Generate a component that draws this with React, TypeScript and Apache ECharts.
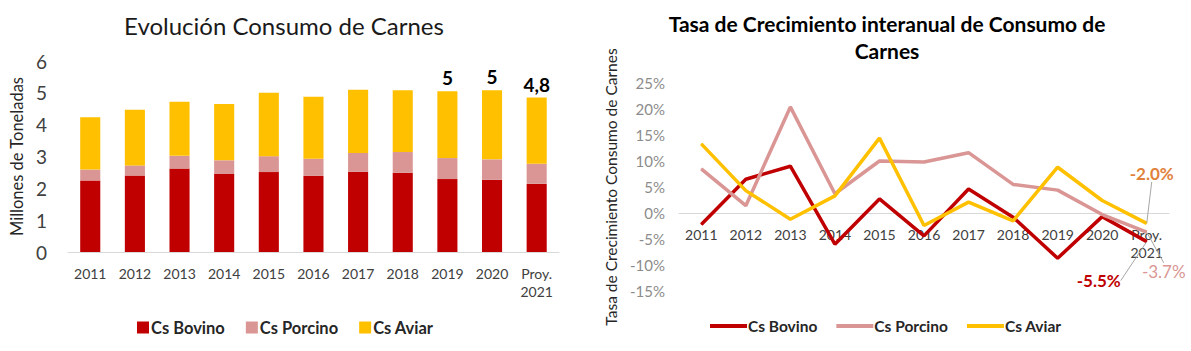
import React, { useEffect, useRef } from "react";
import * as echarts from "echarts";

const years = ["2011", "2012", "2013", "2014", "2015", "2016", "2017", "2018", "2019", "2020", "Proy.\n2021"];

// Millones de toneladas (stacked)
const csBovino = [2.25, 2.4, 2.62, 2.45, 2.51, 2.39, 2.52, 2.49, 2.29, 2.27, 2.14];
const csPorcino = [0.34, 0.32, 0.4, 0.43, 0.5, 0.54, 0.59, 0.65, 0.66, 0.64, 0.63];
const csAviar = [1.64, 1.75, 1.7, 1.77, 1.99, 1.95, 1.99, 1.94, 2.1, 2.17, 2.08];
const totalLabels = ["", "", "", "", "", "", "", "", "5", "5", "4,8"];

// Tasa de crecimiento interanual (%)
const growthBovino = [-2.2, 6.5, 9.0, -6.0, 2.7, -4.4, 4.6, -0.8, -8.7, -0.7, -5.5];
const growthPorcino = [8.5, 1.4, 20.4, 3.7, 10.0, 9.8, 11.6, 5.5, 4.4, -0.3, -3.7];
const growthAviar = [13.3, 4.3, -1.2, 3.3, 14.4, -2.4, 2.1, -1.5, 8.8, 2.4, -2.0];
const growthLabels = ["-5.5%", "-3.7%", "-2.0%"];
const growthMin = -15;
const growthMax = 25;

const FONT = "Lato, 'Open Sans', sans-serif";
const RED = "#C00000";
const PINK = "#D99694";
const YELLOW = "#FFC000";

export default function App() {
  const leftRef = useRef<HTMLDivElement>(null);
  const rightRef = useRef<HTMLDivElement>(null);

  useEffect(() => {
    const left = echarts.init(leftRef.current!, null, { renderer: "svg" });
    const right = echarts.init(rightRef.current!, null, { renderer: "svg" });

    left.setOption({
      animation: false,
      textStyle: { fontFamily: FONT },
      title: {
        text: "Evolución Consumo de Carnes",
        left: 279,
        textAlign: "center",
        top: 8,
        textStyle: { fontFamily: FONT, fontSize: 24, fontWeight: "normal", color: "#1a1a1a" },
      },
      legend: {
        left: 132,
        top: 314,
        itemWidth: 12,
        itemHeight: 12,
        itemGap: 21,
        icon: "rect",
        textStyle: { fontFamily: FONT, fontSize: 16.5, fontWeight: "bold", color: "#262626", padding: [0, 0, 0, -3] },
        data: ["Cs Bovino", "Cs Porcino", "Cs Aviar"],
      },
      grid: { left: 56, right: 36, top: 61, bottom: 99 },
      xAxis: {
        type: "category",
        data: years,
        axisLine: { lineStyle: { color: "#d9d9d9", width: 1 } },
        axisTick: { show: false },
        axisLabel: { color: "#404040", fontSize: 14, fontFamily: FONT, margin: 12, lineHeight: 18 },
      },
      yAxis: {
        type: "value",
        min: 0,
        max: 6,
        interval: 1,
        splitLine: { show: false },
        axisLine: { show: false },
        axisLabel: { color: "#404040", fontSize: 19, fontFamily: FONT, margin: 21 },
        name: "Millones de Toneladas",
        nameLocation: "middle",
        nameGap: 34,
        nameTextStyle: { color: "#262626", fontSize: 16.5, fontFamily: FONT },
      },
      series: [
        { name: "Cs Bovino", type: "bar", stack: "t", data: csBovino, barWidth: "45%", itemStyle: { color: RED } },
        { name: "Cs Porcino", type: "bar", stack: "t", data: csPorcino, itemStyle: { color: PINK } },
        {
          name: "Cs Aviar",
          type: "bar",
          stack: "t",
          data: csAviar,
          itemStyle: { color: YELLOW },
          label: {
            show: true,
            position: "top",
            distance: 4,
            formatter: (p: any) => totalLabels[p.dataIndex],
            fontFamily: FONT,
            fontSize: 19,
            fontWeight: "bold",
            color: "#000",
          },
        },
      ],
    });

    const lastIdx = years.length - 1;
    const withLast = (arr: number[], text: string, color: string, bold: boolean) =>
      arr.map((v, i) =>
        i === lastIdx
          ? {
              value: v,
              label: {
                show: true,
                position: "top",
                formatter: text,
                color,
                fontFamily: FONT,
                fontSize: 17,
                fontWeight: bold ? "bold" : "normal",
              },
            }
          : v
      );

    const lineSeries = (name: string, data: any[], color: string, dx: number, dy: number) => ({
      name,
      type: "line",
      data,
      symbol: "circle",
      symbolSize: 1,
      showSymbol: true,
      lineStyle: { color, width: 3.5 },
      itemStyle: { color },
      label: { show: false, position: "top" },
      labelLayout: { dx, dy },
      labelLine: { show: true, lineStyle: { color: "#a6a6a6", width: 1 } },
    });

    const gridTop = 83;
    const gridBottom = 60;
    const gridH = 351 - gridTop - gridBottom;
    const zeroOffset = -(gridH * (0 - growthMin)) / (growthMax - growthMin);

    right.setOption({
      animation: false,
      textStyle: { fontFamily: FONT },
      title: {
        text: "Tasa de Crecimiento interanual de Consumo de\nCarnes",
        left: 287,
        textAlign: "center",
        top: 5,
        textStyle: { fontFamily: FONT, fontSize: 21, fontWeight: "bold", color: "#000", lineHeight: 27 },
      },
      legend: {
        left: 110,
        top: 313,
        itemWidth: 37,
        itemHeight: 4,
        itemGap: 19,
        icon: "rect",
        textStyle: { fontFamily: FONT, fontSize: 15.5, fontWeight: "bold", color: "#262626", padding: [0, 0, 0, -4] },
        data: ["Cs Bovino", "Cs Porcino", "Cs Aviar"],
      },
      grid: { left: 74, right: 22, top: gridTop, bottom: gridBottom },
      xAxis: {
        type: "category",
        data: years,
        position: "bottom",
        offset: zeroOffset,
        axisLine: { onZero: false, lineStyle: { color: "#d9d9d9", width: 1 } },
        axisTick: { show: false },
        axisLabel: { color: "#404040", fontSize: 14, fontFamily: FONT, margin: 12, lineHeight: 18 },
      },
      yAxis: {
        type: "value",
        min: growthMin,
        max: growthMax,
        interval: 5,
        splitLine: { show: false },
        axisLine: { show: false },
        axisLabel: { color: "#8c8c8c", fontSize: 15, fontFamily: FONT, margin: 14, formatter: "{value}%" },
        name: "Tasa de Crecimiento Consumo de Carnes",
        nameLocation: "middle",
        nameGap: 60,
        nameTextStyle: { color: "#262626", fontSize: 15.5, fontFamily: FONT },
      },
      series: [
        lineSeries("Cs Bovino", withLast(growthBovino, growthLabels[0], RED, true), RED, -48, 53),
        lineSeries("Cs Porcino", withLast(growthPorcino, growthLabels[1], PINK, false), PINK, 17, 53),
        lineSeries("Cs Aviar", withLast(growthAviar, growthLabels[2], "#E0823C", true), YELLOW, 5, -36),
      ],
    });

    return () => {
      left.dispose();
      right.dispose();
    };
  }, []);

  return (
    <div style={{ position: "fixed", left: 0, top: 0, width: 1191, height: 351, background: "#fff", display: "flex" }}>
      <div ref={leftRef} style={{ width: 595, height: 351 }} />
      <div ref={rightRef} style={{ width: 596, height: 351 }} />
    </div>
  );
}
